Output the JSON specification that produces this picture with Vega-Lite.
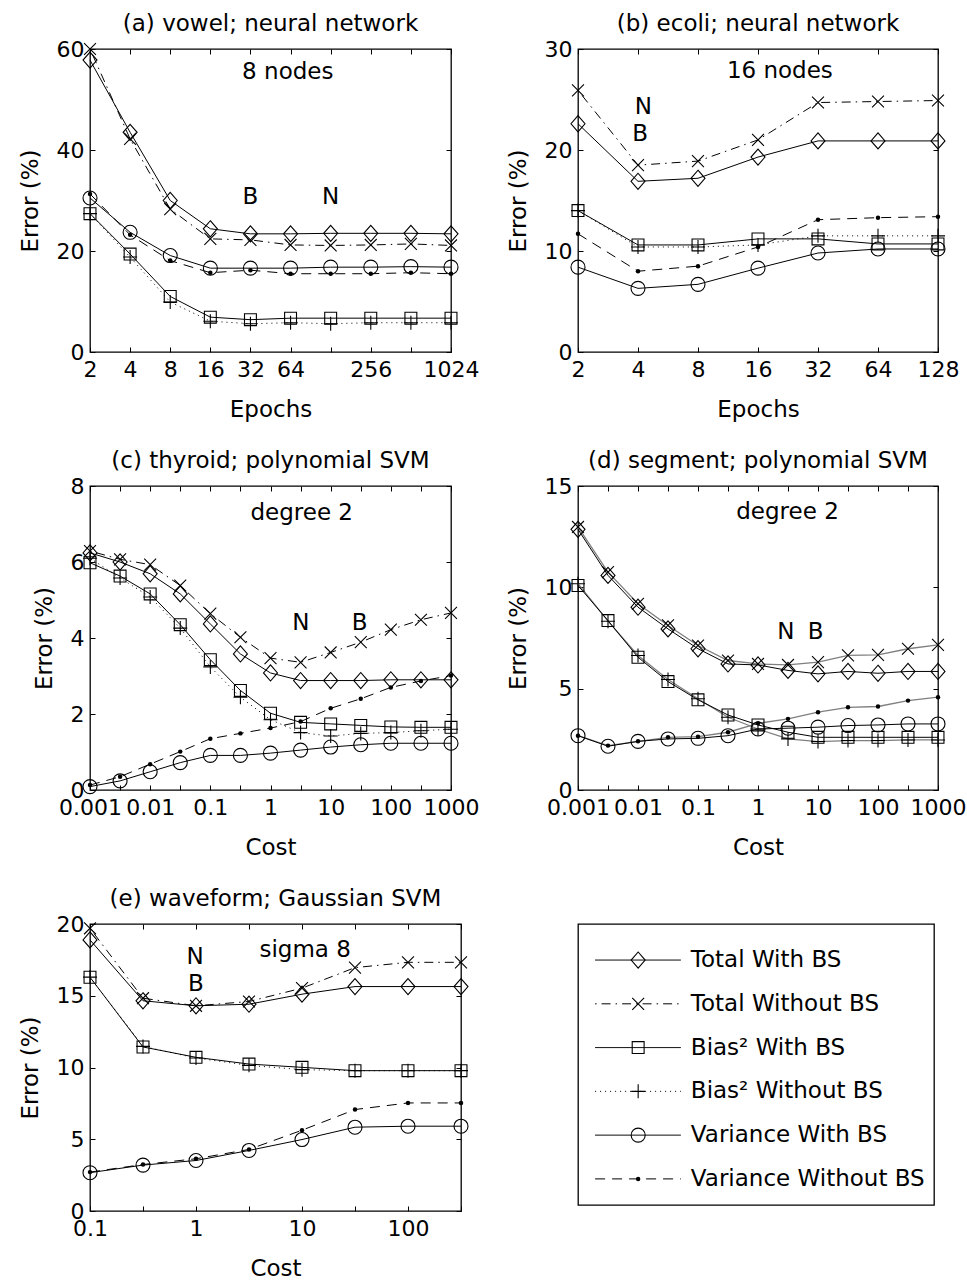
{
"$schema": "https://vega.github.io/schema/vega-lite/v6.json",
"background": "white",
"padding": {"left": 18, "top": 12, "right": 10, "bottom": 10},
"columns": 2,
"spacing": {"row": 134, "column": 117},
"bounds": "flush",
"align": "each",
"config": {
  "font": "DejaVu Sans",
  "view": {"stroke": "black", "strokeWidth": 1.3},
  "axis": {"grid": false, "domain": false, "tickColor": "black", "tickSize": -5, "tickWidth": 1, "labelFont": "DejaVu Sans", "labelFontSize": 22, "labelColor": "black", "titleFont": "DejaVu Sans", "titleFontSize": 23, "titleFontWeight": "normal", "titleColor": "black", "labelFlush": false, "labelOverlap": false, "labelBound": false},
  "axisX": {"labelPadding": 12, "titlePadding": 18},
  "axisY": {"labelPadding": 11, "titlePadding": 14},
  "title": {"font": "DejaVu Sans", "fontSize": 23, "fontWeight": "normal", "color": "black", "frame": "group", "offset": 2},
  "text": {"font": "DejaVu Sans", "fontSize": 23, "color": "black"}
},
"datasets": {
"a": [
{"s":"Total With BS","x":2,"y":57.8},{"s":"Total With BS","x":4,"y":43.5},{"s":"Total With BS","x":8,"y":30.0},{"s":"Total With BS","x":16,"y":24.4},{"s":"Total With BS","x":32,"y":23.4},{"s":"Total With BS","x":64,"y":23.4},{"s":"Total With BS","x":128,"y":23.5},{"s":"Total With BS","x":256,"y":23.5},{"s":"Total With BS","x":512,"y":23.5},{"s":"Total With BS","x":1024,"y":23.4},
{"s":"Total Without BS","x":2,"y":60},{"s":"Total Without BS","x":4,"y":42.2},{"s":"Total Without BS","x":8,"y":28.3},{"s":"Total Without BS","x":16,"y":22.4},{"s":"Total Without BS","x":32,"y":22.2},{"s":"Total Without BS","x":64,"y":21.2},{"s":"Total Without BS","x":128,"y":21.1},{"s":"Total Without BS","x":256,"y":21.2},{"s":"Total Without BS","x":512,"y":21.4},{"s":"Total Without BS","x":1024,"y":21.1},
{"s":"Bias² With BS","x":2,"y":27.4},{"s":"Bias² With BS","x":4,"y":19.4},{"s":"Bias² With BS","x":8,"y":11.0},{"s":"Bias² With BS","x":16,"y":6.9},{"s":"Bias² With BS","x":32,"y":6.4},{"s":"Bias² With BS","x":64,"y":6.7},{"s":"Bias² With BS","x":128,"y":6.7},{"s":"Bias² With BS","x":256,"y":6.7},{"s":"Bias² With BS","x":512,"y":6.7},{"s":"Bias² With BS","x":1024,"y":6.7},
{"s":"Bias² Without BS","x":2,"y":27.4},{"s":"Bias² Without BS","x":4,"y":18.8},{"s":"Bias² Without BS","x":8,"y":9.9},{"s":"Bias² Without BS","x":16,"y":6.1},{"s":"Bias² Without BS","x":32,"y":5.6},{"s":"Bias² Without BS","x":64,"y":5.8},{"s":"Bias² Without BS","x":128,"y":5.6},{"s":"Bias² Without BS","x":256,"y":5.8},{"s":"Bias² Without BS","x":512,"y":5.8},{"s":"Bias² Without BS","x":1024,"y":5.8},
{"s":"Variance With BS","x":2,"y":30.5},{"s":"Variance With BS","x":4,"y":23.7},{"s":"Variance With BS","x":8,"y":19.1},{"s":"Variance With BS","x":16,"y":16.6},{"s":"Variance With BS","x":32,"y":16.6},{"s":"Variance With BS","x":64,"y":16.6},{"s":"Variance With BS","x":128,"y":16.8},{"s":"Variance With BS","x":256,"y":16.8},{"s":"Variance With BS","x":512,"y":16.9},{"s":"Variance With BS","x":1024,"y":16.8},
{"s":"Variance Without BS","x":2,"y":31.3},{"s":"Variance Without BS","x":4,"y":23.2},{"s":"Variance Without BS","x":8,"y":18.1},{"s":"Variance Without BS","x":16,"y":15.7},{"s":"Variance Without BS","x":32,"y":16.2},{"s":"Variance Without BS","x":64,"y":15.5},{"s":"Variance Without BS","x":128,"y":15.5},{"s":"Variance Without BS","x":256,"y":15.5},{"s":"Variance Without BS","x":512,"y":15.7},{"s":"Variance Without BS","x":1024,"y":15.5}
],
"b": [
{"s":"Total With BS","x":2,"y":22.6},{"s":"Total With BS","x":4,"y":16.9},{"s":"Total With BS","x":8,"y":17.2},{"s":"Total With BS","x":16,"y":19.3},{"s":"Total With BS","x":32,"y":20.9},{"s":"Total With BS","x":64,"y":20.9},{"s":"Total With BS","x":128,"y":20.9},
{"s":"Total Without BS","x":2,"y":25.9},{"s":"Total Without BS","x":4,"y":18.5},{"s":"Total Without BS","x":8,"y":18.9},{"s":"Total Without BS","x":16,"y":21.0},{"s":"Total Without BS","x":32,"y":24.7},{"s":"Total Without BS","x":64,"y":24.8},{"s":"Total Without BS","x":128,"y":24.9},
{"s":"Bias² With BS","x":2,"y":14.0},{"s":"Bias² With BS","x":4,"y":10.6},{"s":"Bias² With BS","x":8,"y":10.6},{"s":"Bias² With BS","x":16,"y":11.2},{"s":"Bias² With BS","x":32,"y":11.2},{"s":"Bias² With BS","x":64,"y":10.7},{"s":"Bias² With BS","x":128,"y":10.7},
{"s":"Bias² Without BS","x":2,"y":14.0},{"s":"Bias² Without BS","x":4,"y":10.4},{"s":"Bias² Without BS","x":8,"y":10.4},{"s":"Bias² Without BS","x":16,"y":10.6},{"s":"Bias² Without BS","x":32,"y":11.5},{"s":"Bias² Without BS","x":64,"y":11.5},{"s":"Bias² Without BS","x":128,"y":11.5},
{"s":"Variance With BS","x":2,"y":8.4},{"s":"Variance With BS","x":4,"y":6.3},{"s":"Variance With BS","x":8,"y":6.7},{"s":"Variance With BS","x":16,"y":8.3},{"s":"Variance With BS","x":32,"y":9.8},{"s":"Variance With BS","x":64,"y":10.2},{"s":"Variance With BS","x":128,"y":10.2},
{"s":"Variance Without BS","x":2,"y":11.7},{"s":"Variance Without BS","x":4,"y":8.0},{"s":"Variance Without BS","x":8,"y":8.5},{"s":"Variance Without BS","x":16,"y":10.4},{"s":"Variance Without BS","x":32,"y":13.1},{"s":"Variance Without BS","x":64,"y":13.3},{"s":"Variance Without BS","x":128,"y":13.4}
],
"c": [
{"s":"Total With BS","x":0.001,"y":6.24},{"s":"Total With BS","x":0.0031623,"y":6.0},{"s":"Total With BS","x":0.01,"y":5.69},{"s":"Total With BS","x":0.031623,"y":5.16},{"s":"Total With BS","x":0.1,"y":4.37},{"s":"Total With BS","x":0.31623,"y":3.58},{"s":"Total With BS","x":1,"y":3.08},{"s":"Total With BS","x":3.1623,"y":2.88},{"s":"Total With BS","x":10,"y":2.88},{"s":"Total With BS","x":31.623,"y":2.88},{"s":"Total With BS","x":100,"y":2.9},{"s":"Total With BS","x":316.23,"y":2.9},{"s":"Total With BS","x":1000,"y":2.9},
{"s":"Total Without BS","x":0.001,"y":6.29},{"s":"Total Without BS","x":0.0031623,"y":6.07},{"s":"Total Without BS","x":0.01,"y":5.93},{"s":"Total Without BS","x":0.031623,"y":5.38},{"s":"Total Without BS","x":0.1,"y":4.64},{"s":"Total Without BS","x":0.31623,"y":4.02},{"s":"Total Without BS","x":1,"y":3.47},{"s":"Total Without BS","x":3.1623,"y":3.36},{"s":"Total Without BS","x":10,"y":3.62},{"s":"Total Without BS","x":31.623,"y":3.89},{"s":"Total Without BS","x":100,"y":4.22},{"s":"Total Without BS","x":316.23,"y":4.48},{"s":"Total Without BS","x":1000,"y":4.66},
{"s":"Bias² With BS","x":0.001,"y":5.98},{"s":"Bias² With BS","x":0.0031623,"y":5.63},{"s":"Bias² With BS","x":0.01,"y":5.16},{"s":"Bias² With BS","x":0.031623,"y":4.35},{"s":"Bias² With BS","x":0.1,"y":3.43},{"s":"Bias² With BS","x":0.31623,"y":2.62},{"s":"Bias² With BS","x":1,"y":2.02},{"s":"Bias² With BS","x":3.1623,"y":1.78},{"s":"Bias² With BS","x":10,"y":1.74},{"s":"Bias² With BS","x":31.623,"y":1.70},{"s":"Bias² With BS","x":100,"y":1.66},{"s":"Bias² With BS","x":316.23,"y":1.65},{"s":"Bias² With BS","x":1000,"y":1.65},
{"s":"Bias² Without BS","x":0.001,"y":6.1},{"s":"Bias² Without BS","x":0.0031623,"y":5.58},{"s":"Bias² Without BS","x":0.01,"y":5.08},{"s":"Bias² Without BS","x":0.031623,"y":4.26},{"s":"Bias² Without BS","x":0.1,"y":3.24},{"s":"Bias² Without BS","x":0.31623,"y":2.44},{"s":"Bias² Without BS","x":1,"y":1.85},{"s":"Bias² Without BS","x":3.1623,"y":1.51},{"s":"Bias² Without BS","x":10,"y":1.42},{"s":"Bias² Without BS","x":31.623,"y":1.49},{"s":"Bias² Without BS","x":100,"y":1.51},{"s":"Bias² Without BS","x":316.23,"y":1.56},{"s":"Bias² Without BS","x":1000,"y":1.6},
{"s":"Variance With BS","x":0.001,"y":0.09},{"s":"Variance With BS","x":0.0031623,"y":0.24},{"s":"Variance With BS","x":0.01,"y":0.48},{"s":"Variance With BS","x":0.031623,"y":0.72},{"s":"Variance With BS","x":0.1,"y":0.91},{"s":"Variance With BS","x":0.31623,"y":0.91},{"s":"Variance With BS","x":1,"y":0.97},{"s":"Variance With BS","x":3.1623,"y":1.05},{"s":"Variance With BS","x":10,"y":1.13},{"s":"Variance With BS","x":31.623,"y":1.19},{"s":"Variance With BS","x":100,"y":1.23},{"s":"Variance With BS","x":316.23,"y":1.23},{"s":"Variance With BS","x":1000,"y":1.23},
{"s":"Variance Without BS","x":0.001,"y":0.13},{"s":"Variance Without BS","x":0.0031623,"y":0.35},{"s":"Variance Without BS","x":0.01,"y":0.68},{"s":"Variance Without BS","x":0.031623,"y":1.01},{"s":"Variance Without BS","x":0.1,"y":1.35},{"s":"Variance Without BS","x":0.31623,"y":1.49},{"s":"Variance Without BS","x":1,"y":1.63},{"s":"Variance Without BS","x":3.1623,"y":1.80},{"s":"Variance Without BS","x":10,"y":2.15},{"s":"Variance Without BS","x":31.623,"y":2.40},{"s":"Variance Without BS","x":100,"y":2.70},{"s":"Variance Without BS","x":316.23,"y":2.87},{"s":"Variance Without BS","x":1000,"y":3.01}
],
"d": [
{"s":"Total With BS","x":0.001,"y":12.86},{"s":"Total With BS","x":0.0031623,"y":10.59},{"s":"Total With BS","x":0.01,"y":9.02},{"s":"Total With BS","x":0.031623,"y":7.95},{"s":"Total With BS","x":0.1,"y":6.97},{"s":"Total With BS","x":0.31623,"y":6.22},{"s":"Total With BS","x":1,"y":6.17},{"s":"Total With BS","x":3.1623,"y":5.9},{"s":"Total With BS","x":10,"y":5.73},{"s":"Total With BS","x":31.623,"y":5.85},{"s":"Total With BS","x":100,"y":5.76},{"s":"Total With BS","x":316.23,"y":5.85},{"s":"Total With BS","x":1000,"y":5.85},
{"s":"Total Without BS","x":0.001,"y":12.98},{"s":"Total Without BS","x":0.0031623,"y":10.75},{"s":"Total Without BS","x":0.01,"y":9.19},{"s":"Total Without BS","x":0.031623,"y":8.12},{"s":"Total Without BS","x":0.1,"y":7.13},{"s":"Total Without BS","x":0.31623,"y":6.39},{"s":"Total Without BS","x":1,"y":6.22},{"s":"Total Without BS","x":3.1623,"y":6.17},{"s":"Total Without BS","x":10,"y":6.31},{"s":"Total Without BS","x":31.623,"y":6.64},{"s":"Total Without BS","x":100,"y":6.67},{"s":"Total Without BS","x":316.23,"y":6.97},{"s":"Total Without BS","x":1000,"y":7.16},
{"s":"Bias² With BS","x":0.001,"y":10.09},{"s":"Bias² With BS","x":0.0031623,"y":8.36},{"s":"Bias² With BS","x":0.01,"y":6.55},{"s":"Bias² With BS","x":0.031623,"y":5.35},{"s":"Bias² With BS","x":0.1,"y":4.45},{"s":"Bias² With BS","x":0.31623,"y":3.7},{"s":"Bias² With BS","x":1,"y":3.21},{"s":"Bias² With BS","x":3.1623,"y":2.85},{"s":"Bias² With BS","x":10,"y":2.6},{"s":"Bias² With BS","x":31.623,"y":2.6},{"s":"Bias² With BS","x":100,"y":2.6},{"s":"Bias² With BS","x":316.23,"y":2.6},{"s":"Bias² With BS","x":1000,"y":2.6},
{"s":"Bias² Without BS","x":0.001,"y":10.18},{"s":"Bias² Without BS","x":0.0031623,"y":8.33},{"s":"Bias² Without BS","x":0.01,"y":6.64},{"s":"Bias² Without BS","x":0.031623,"y":5.45},{"s":"Bias² Without BS","x":0.1,"y":4.5},{"s":"Bias² Without BS","x":0.31623,"y":3.59},{"s":"Bias² Without BS","x":1,"y":3.01},{"s":"Bias² Without BS","x":3.1623,"y":2.52},{"s":"Bias² Without BS","x":10,"y":2.39},{"s":"Bias² Without BS","x":31.623,"y":2.44},{"s":"Bias² Without BS","x":100,"y":2.44},{"s":"Bias² Without BS","x":316.23,"y":2.47},{"s":"Bias² Without BS","x":1000,"y":2.47},
{"s":"Variance With BS","x":0.001,"y":2.68},{"s":"Variance With BS","x":0.0031623,"y":2.16},{"s":"Variance With BS","x":0.01,"y":2.4},{"s":"Variance With BS","x":0.031623,"y":2.52},{"s":"Variance With BS","x":0.1,"y":2.55},{"s":"Variance With BS","x":0.31623,"y":2.68},{"s":"Variance With BS","x":1,"y":3.01},{"s":"Variance With BS","x":3.1623,"y":3.05},{"s":"Variance With BS","x":10,"y":3.1},{"s":"Variance With BS","x":31.623,"y":3.18},{"s":"Variance With BS","x":100,"y":3.21},{"s":"Variance With BS","x":316.23,"y":3.26},{"s":"Variance With BS","x":1000,"y":3.26},
{"s":"Variance Without BS","x":0.001,"y":2.68},{"s":"Variance Without BS","x":0.0031623,"y":2.19},{"s":"Variance Without BS","x":0.01,"y":2.4},{"s":"Variance Without BS","x":0.031623,"y":2.6},{"s":"Variance Without BS","x":0.1,"y":2.63},{"s":"Variance Without BS","x":0.31623,"y":2.85},{"s":"Variance Without BS","x":1,"y":3.29},{"s":"Variance Without BS","x":3.1623,"y":3.51},{"s":"Variance Without BS","x":10,"y":3.84},{"s":"Variance Without BS","x":31.623,"y":4.08},{"s":"Variance Without BS","x":100,"y":4.12},{"s":"Variance Without BS","x":316.23,"y":4.41},{"s":"Variance Without BS","x":1000,"y":4.58}
],
"e": [
{"s":"Total With BS","x":0.1,"y":18.89},{"s":"Total With BS","x":0.31623,"y":14.65},{"s":"Total With BS","x":1,"y":14.3},{"s":"Total With BS","x":3.1623,"y":14.41},{"s":"Total With BS","x":10,"y":15.11},{"s":"Total With BS","x":31.623,"y":15.64},{"s":"Total With BS","x":100,"y":15.64},{"s":"Total With BS","x":316.23,"y":15.64},
{"s":"Total Without BS","x":0.1,"y":19.7},{"s":"Total Without BS","x":0.31623,"y":14.83},{"s":"Total Without BS","x":1,"y":14.3},{"s":"Total Without BS","x":3.1623,"y":14.6},{"s":"Total Without BS","x":10,"y":15.53},{"s":"Total Without BS","x":31.623,"y":16.96},{"s":"Total Without BS","x":100,"y":17.33},{"s":"Total Without BS","x":316.23,"y":17.33},
{"s":"Bias² With BS","x":0.1,"y":16.29},{"s":"Bias² With BS","x":0.31623,"y":11.43},{"s":"Bias² With BS","x":1,"y":10.71},{"s":"Bias² With BS","x":3.1623,"y":10.24},{"s":"Bias² With BS","x":10,"y":10.01},{"s":"Bias² With BS","x":31.623,"y":9.78},{"s":"Bias² With BS","x":100,"y":9.78},{"s":"Bias² With BS","x":316.23,"y":9.78},
{"s":"Bias² Without BS","x":0.1,"y":16.3},{"s":"Bias² Without BS","x":0.31623,"y":11.47},{"s":"Bias² Without BS","x":1,"y":10.66},{"s":"Bias² Without BS","x":3.1623,"y":10.15},{"s":"Bias² Without BS","x":10,"y":9.85},{"s":"Bias² Without BS","x":31.623,"y":9.78},{"s":"Bias² Without BS","x":100,"y":9.78},{"s":"Bias² Without BS","x":316.23,"y":9.78},
{"s":"Variance With BS","x":0.1,"y":2.67},{"s":"Variance With BS","x":0.31623,"y":3.2},{"s":"Variance With BS","x":1,"y":3.52},{"s":"Variance With BS","x":3.1623,"y":4.22},{"s":"Variance With BS","x":10,"y":4.98},{"s":"Variance With BS","x":31.623,"y":5.84},{"s":"Variance With BS","x":100,"y":5.91},{"s":"Variance With BS","x":316.23,"y":5.91},
{"s":"Variance Without BS","x":0.1,"y":2.71},{"s":"Variance Without BS","x":0.31623,"y":3.24},{"s":"Variance Without BS","x":1,"y":3.64},{"s":"Variance Without BS","x":3.1623,"y":4.29},{"s":"Variance Without BS","x":10,"y":5.63},{"s":"Variance Without BS","x":31.623,"y":7.07},{"s":"Variance Without BS","x":100,"y":7.53},{"s":"Variance Without BS","x":316.23,"y":7.53}
],
"legend": [
{"s":"Total With BS"},{"s":"Total Without BS"},{"s":"Bias² With BS"},{"s":"Bias² Without BS"},{"s":"Variance With BS"},{"s":"Variance Without BS"}
]
},
"concat": [
{
 "width": 361, "height": 303,
 "title": "(a) vowel; neural network",
 "data": {"name": "a"},
 "layer": [
  {"transform": [{"filter": {"field": "s", "oneOf": ["Total With BS", "Bias² With BS", "Variance With BS"]}}],
   "mark": {"type": "line", "color": "black", "strokeWidth": 1},
   "encoding": {
    "x": {"field": "x", "type": "quantitative", "scale": {"type": "log", "domain": [2, 1024], "nice": false}, "axis": {"title": "Epochs", "values": [2, 4, 8, 16, 32, 64, 128, 256, 512, 1024], "format": "d", "labelExpr": "datum.value == 128 || datum.value == 512 ? '' : datum.label"}},
    "y": {"field": "y", "type": "quantitative", "scale": {"domain": [0, 60], "nice": false}, "axis": {"title": "Error (%)", "values": [0, 20, 40, 60]}},
    "detail": {"field": "s"}}},
  {"transform": [{"filter": "datum.s == 'Total Without BS'"}], "mark": {"type": "line", "color": "black", "strokeWidth": 1, "strokeDash": [1.5, 5, 9, 5]},
   "encoding": {"x": {"field": "x", "type": "quantitative", "axis": null}, "y": {"field": "y", "type": "quantitative", "axis": null}}},
  {"transform": [{"filter": "datum.s == 'Bias² Without BS'"}], "mark": {"type": "line", "color": "black", "strokeWidth": 1, "strokeDash": [1, 4]},
   "encoding": {"x": {"field": "x", "type": "quantitative", "axis": null}, "y": {"field": "y", "type": "quantitative", "axis": null}}},
  {"transform": [{"filter": "datum.s == 'Variance Without BS'"}], "mark": {"type": "line", "color": "black", "strokeWidth": 1, "strokeDash": [10, 7]},
   "encoding": {"x": {"field": "x", "type": "quantitative", "axis": null}, "y": {"field": "y", "type": "quantitative", "axis": null}}},
  {"transform": [{"filter": "datum.s != 'Variance Without BS'"}], "mark": {"type": "point", "filled": false, "color": "black", "strokeWidth": 1.1, "size": 196, "opacity": 1},
   "encoding": {"x": {"field": "x", "type": "quantitative", "axis": null}, "y": {"field": "y", "type": "quantitative", "axis": null},
    "shape": {"field": "s", "type": "nominal", "scale": {"domain": ["Total With BS", "Total Without BS", "Bias² With BS", "Bias² Without BS", "Variance With BS", "Variance Without BS"], "range": ["M0,-1.15L1,0L0,1.15L-1,0Z", "M-0.85,-0.85L0.85,0.85M-0.85,0.85L0.85,-0.85", "M-0.85,-0.85L0.85,-0.85L0.85,0.85L-0.85,0.85Z", "M-1,0L1,0M0,-1L0,1", "circle", "circle"]}, "legend": null}}},
  {"transform": [{"filter": "datum.s == 'Variance Without BS'"}], "mark": {"type": "point", "filled": true, "shape": "circle", "color": "black", "size": 20, "opacity": 1},
   "encoding": {"x": {"field": "x", "type": "quantitative", "axis": {"orient": "top", "labels": false, "title": null, "values": [2, 4, 8, 16, 32, 64, 128, 256, 512, 1024]}},
    "y": {"field": "y", "type": "quantitative", "axis": {"orient": "right", "labels": false, "title": null, "values": [0, 20, 40, 60]}}}},
  {"data": {"values": [{}]}, "mark": {"type": "text", "text": "8 nodes"}, "encoding": {"x": {"datum": 61, "type": "quantitative", "axis": null}, "y": {"datum": 55.4, "type": "quantitative", "axis": null}}},
  {"data": {"values": [{}]}, "mark": {"type": "text", "text": "B"}, "encoding": {"x": {"datum": 32, "type": "quantitative", "axis": null}, "y": {"datum": 30.7, "type": "quantitative", "axis": null}}},
  {"data": {"values": [{}]}, "mark": {"type": "text", "text": "N"}, "encoding": {"x": {"datum": 128, "type": "quantitative", "axis": null}, "y": {"datum": 30.7, "type": "quantitative", "axis": null}}}
 ],
 "resolve": {"axis": {"x": "independent", "y": "independent"}}
},
{
 "width": 360, "height": 303,
 "title": "(b) ecoli; neural network",
 "data": {"name": "b"},
 "layer": [
  {"transform": [{"filter": {"field": "s", "oneOf": ["Total With BS", "Bias² With BS", "Variance With BS"]}}],
   "mark": {"type": "line", "color": "black", "strokeWidth": 1},
   "encoding": {
    "x": {"field": "x", "type": "quantitative", "scale": {"type": "log", "domain": [2, 128], "nice": false}, "axis": {"title": "Epochs", "values": [2, 4, 8, 16, 32, 64, 128], "format": "d"}},
    "y": {"field": "y", "type": "quantitative", "scale": {"domain": [0, 30], "nice": false}, "axis": {"title": "Error (%)", "values": [0, 10, 20, 30]}},
    "detail": {"field": "s"}}},
  {"transform": [{"filter": "datum.s == 'Total Without BS'"}], "mark": {"type": "line", "color": "black", "strokeWidth": 1, "strokeDash": [1.5, 5, 9, 5]},
   "encoding": {"x": {"field": "x", "type": "quantitative", "axis": null}, "y": {"field": "y", "type": "quantitative", "axis": null}}},
  {"transform": [{"filter": "datum.s == 'Bias² Without BS'"}], "mark": {"type": "line", "color": "black", "strokeWidth": 1, "strokeDash": [1, 4]},
   "encoding": {"x": {"field": "x", "type": "quantitative", "axis": null}, "y": {"field": "y", "type": "quantitative", "axis": null}}},
  {"transform": [{"filter": "datum.s == 'Variance Without BS'"}], "mark": {"type": "line", "color": "black", "strokeWidth": 1, "strokeDash": [10, 7]},
   "encoding": {"x": {"field": "x", "type": "quantitative", "axis": null}, "y": {"field": "y", "type": "quantitative", "axis": null}}},
  {"transform": [{"filter": "datum.s != 'Variance Without BS'"}], "mark": {"type": "point", "filled": false, "color": "black", "strokeWidth": 1.1, "size": 196, "opacity": 1},
   "encoding": {"x": {"field": "x", "type": "quantitative", "axis": null}, "y": {"field": "y", "type": "quantitative", "axis": null},
    "shape": {"field": "s", "type": "nominal", "scale": {"domain": ["Total With BS", "Total Without BS", "Bias² With BS", "Bias² Without BS", "Variance With BS", "Variance Without BS"], "range": ["M0,-1.15L1,0L0,1.15L-1,0Z", "M-0.85,-0.85L0.85,0.85M-0.85,0.85L0.85,-0.85", "M-0.85,-0.85L0.85,-0.85L0.85,0.85L-0.85,0.85Z", "M-1,0L1,0M0,-1L0,1", "circle", "circle"]}, "legend": null}}},
  {"transform": [{"filter": "datum.s == 'Variance Without BS'"}], "mark": {"type": "point", "filled": true, "shape": "circle", "color": "black", "size": 20, "opacity": 1},
   "encoding": {"x": {"field": "x", "type": "quantitative", "axis": {"orient": "top", "labels": false, "title": null, "values": [2, 4, 8, 16, 32, 64, 128]}},
    "y": {"field": "y", "type": "quantitative", "axis": {"orient": "right", "labels": false, "title": null, "values": [0, 10, 20, 30]}}}},
  {"data": {"values": [{}]}, "mark": {"type": "text", "text": "16 nodes"}, "encoding": {"x": {"datum": 20.6, "type": "quantitative", "axis": null}, "y": {"datum": 27.8, "type": "quantitative", "axis": null}}},
  {"data": {"values": [{}]}, "mark": {"type": "text", "text": "N"}, "encoding": {"x": {"datum": 4.25, "type": "quantitative", "axis": null}, "y": {"datum": 24.3, "type": "quantitative", "axis": null}}},
  {"data": {"values": [{}]}, "mark": {"type": "text", "text": "B"}, "encoding": {"x": {"datum": 4.1, "type": "quantitative", "axis": null}, "y": {"datum": 21.6, "type": "quantitative", "axis": null}}}
 ],
 "resolve": {"axis": {"x": "independent", "y": "independent"}}
},
{
 "width": 361, "height": 304,
 "title": "(c) thyroid; polynomial SVM",
 "data": {"name": "c"},
 "layer": [
  {"transform": [{"filter": {"field": "s", "oneOf": ["Total With BS", "Bias² With BS", "Variance With BS"]}}],
   "mark": {"type": "line", "color": "black", "strokeWidth": 1},
   "encoding": {
    "x": {"field": "x", "type": "quantitative", "scale": {"type": "log", "domain": [0.001, 1000], "nice": false}, "axis": {"title": "Cost", "values": [0.001, 0.0031623, 0.01, 0.031623, 0.1, 0.31623, 1, 3.1623, 10, 31.623, 100, 316.23, 1000], "format": "~g", "labelExpr": "abs(log(datum.value)/LN10 - round(log(datum.value)/LN10)) < 0.01 ? datum.label : ''"}},
    "y": {"field": "y", "type": "quantitative", "scale": {"domain": [0, 8], "nice": false}, "axis": {"title": "Error (%)", "values": [0, 2, 4, 6, 8]}},
    "detail": {"field": "s"}}},
  {"transform": [{"filter": "datum.s == 'Total Without BS'"}], "mark": {"type": "line", "color": "black", "strokeWidth": 1, "strokeDash": [1.5, 5, 9, 5]},
   "encoding": {"x": {"field": "x", "type": "quantitative", "axis": null}, "y": {"field": "y", "type": "quantitative", "axis": null}}},
  {"transform": [{"filter": "datum.s == 'Bias² Without BS'"}], "mark": {"type": "line", "color": "black", "strokeWidth": 1, "strokeDash": [1, 4]},
   "encoding": {"x": {"field": "x", "type": "quantitative", "axis": null}, "y": {"field": "y", "type": "quantitative", "axis": null}}},
  {"transform": [{"filter": "datum.s == 'Variance Without BS'"}], "mark": {"type": "line", "color": "black", "strokeWidth": 1, "strokeDash": [10, 7]},
   "encoding": {"x": {"field": "x", "type": "quantitative", "axis": null}, "y": {"field": "y", "type": "quantitative", "axis": null}}},
  {"transform": [{"filter": "datum.s != 'Variance Without BS'"}], "mark": {"type": "point", "filled": false, "color": "black", "strokeWidth": 1.1, "size": 196, "opacity": 1},
   "encoding": {"x": {"field": "x", "type": "quantitative", "axis": null}, "y": {"field": "y", "type": "quantitative", "axis": null},
    "shape": {"field": "s", "type": "nominal", "scale": {"domain": ["Total With BS", "Total Without BS", "Bias² With BS", "Bias² Without BS", "Variance With BS", "Variance Without BS"], "range": ["M0,-1.15L1,0L0,1.15L-1,0Z", "M-0.85,-0.85L0.85,0.85M-0.85,0.85L0.85,-0.85", "M-0.85,-0.85L0.85,-0.85L0.85,0.85L-0.85,0.85Z", "M-1,0L1,0M0,-1L0,1", "circle", "circle"]}, "legend": null}}},
  {"transform": [{"filter": "datum.s == 'Variance Without BS'"}], "mark": {"type": "point", "filled": true, "shape": "circle", "color": "black", "size": 20, "opacity": 1},
   "encoding": {"x": {"field": "x", "type": "quantitative", "axis": {"orient": "top", "labels": false, "title": null, "values": [0.001, 0.0031623, 0.01, 0.031623, 0.1, 0.31623, 1, 3.1623, 10, 31.623, 100, 316.23, 1000]}},
    "y": {"field": "y", "type": "quantitative", "axis": {"orient": "right", "labels": false, "title": null, "values": [0, 2, 4, 6, 8]}}}},
  {"data": {"values": [{}]}, "mark": {"type": "text", "text": "degree 2"}, "encoding": {"x": {"datum": 3.3, "type": "quantitative", "axis": null}, "y": {"datum": 7.3, "type": "quantitative", "axis": null}}},
  {"data": {"values": [{}]}, "mark": {"type": "text", "text": "N"}, "encoding": {"x": {"datum": 3.2, "type": "quantitative", "axis": null}, "y": {"datum": 4.4, "type": "quantitative", "axis": null}}},
  {"data": {"values": [{}]}, "mark": {"type": "text", "text": "B"}, "encoding": {"x": {"datum": 30.4, "type": "quantitative", "axis": null}, "y": {"datum": 4.4, "type": "quantitative", "axis": null}}}
 ],
 "resolve": {"axis": {"x": "independent", "y": "independent"}}
},
{
 "width": 360, "height": 304,
 "title": "(d) segment; polynomial SVM",
 "data": {"name": "d"},
 "layer": [
  {"transform": [{"filter": {"field": "s", "oneOf": ["Total Without BS", "Bias² Without BS", "Variance Without BS"]}}],
   "mark": {"type": "line", "color": "#7f7f7f", "strokeWidth": 1.3},
   "encoding": {
    "x": {"field": "x", "type": "quantitative", "scale": {"type": "log", "domain": [0.001, 1000], "nice": false}, "axis": {"title": "Cost", "values": [0.001, 0.0031623, 0.01, 0.031623, 0.1, 0.31623, 1, 3.1623, 10, 31.623, 100, 316.23, 1000], "format": "~g", "labelExpr": "abs(log(datum.value)/LN10 - round(log(datum.value)/LN10)) < 0.01 ? datum.label : ''"}},
    "y": {"field": "y", "type": "quantitative", "scale": {"domain": [0, 15], "nice": false}, "axis": {"title": "Error (%)", "values": [0, 5, 10, 15]}},
    "detail": {"field": "s"}}},
  {"transform": [{"filter": {"field": "s", "oneOf": ["Total With BS", "Bias² With BS", "Variance With BS"]}}],
   "mark": {"type": "line", "color": "black", "strokeWidth": 1},
   "encoding": {"x": {"field": "x", "type": "quantitative", "axis": null}, "y": {"field": "y", "type": "quantitative", "axis": null}, "detail": {"field": "s"}}},
  {"transform": [{"filter": "datum.s != 'Variance Without BS'"}], "mark": {"type": "point", "filled": false, "color": "black", "strokeWidth": 1.1, "size": 196, "opacity": 1},
   "encoding": {"x": {"field": "x", "type": "quantitative", "axis": null}, "y": {"field": "y", "type": "quantitative", "axis": null},
    "shape": {"field": "s", "type": "nominal", "scale": {"domain": ["Total With BS", "Total Without BS", "Bias² With BS", "Bias² Without BS", "Variance With BS", "Variance Without BS"], "range": ["M0,-1.15L1,0L0,1.15L-1,0Z", "M-0.85,-0.85L0.85,0.85M-0.85,0.85L0.85,-0.85", "M-0.85,-0.85L0.85,-0.85L0.85,0.85L-0.85,0.85Z", "M-1,0L1,0M0,-1L0,1", "circle", "circle"]}, "legend": null}}},
  {"transform": [{"filter": "datum.s == 'Variance Without BS'"}], "mark": {"type": "point", "filled": true, "shape": "circle", "color": "black", "size": 20, "opacity": 1},
   "encoding": {"x": {"field": "x", "type": "quantitative", "axis": {"orient": "top", "labels": false, "title": null, "values": [0.001, 0.0031623, 0.01, 0.031623, 0.1, 0.31623, 1, 3.1623, 10, 31.623, 100, 316.23, 1000]}},
    "y": {"field": "y", "type": "quantitative", "axis": {"orient": "right", "labels": false, "title": null, "values": [0, 5, 10, 15]}}}},
  {"data": {"values": [{}]}, "mark": {"type": "text", "text": "degree 2"}, "encoding": {"x": {"datum": 3.1, "type": "quantitative", "axis": null}, "y": {"datum": 13.7, "type": "quantitative", "axis": null}}},
  {"data": {"values": [{}]}, "mark": {"type": "text", "text": "N"}, "encoding": {"x": {"datum": 2.9, "type": "quantitative", "axis": null}, "y": {"datum": 7.8, "type": "quantitative", "axis": null}}},
  {"data": {"values": [{}]}, "mark": {"type": "text", "text": "B"}, "encoding": {"x": {"datum": 9.1, "type": "quantitative", "axis": null}, "y": {"datum": 7.8, "type": "quantitative", "axis": null}}}
 ],
 "resolve": {"axis": {"x": "independent", "y": "independent"}}
},
{
 "width": 371, "height": 287,
 "title": "(e) waveform; Gaussian SVM",
 "data": {"name": "e"},
 "layer": [
  {"transform": [{"filter": {"field": "s", "oneOf": ["Total With BS", "Bias² With BS", "Variance With BS"]}}],
   "mark": {"type": "line", "color": "black", "strokeWidth": 1},
   "encoding": {
    "x": {"field": "x", "type": "quantitative", "scale": {"type": "log", "domain": [0.1, 316.23], "nice": false}, "axis": {"title": "Cost", "values": [0.1, 0.31623, 1, 3.1623, 10, 31.623, 100, 316.23], "format": "~g", "labelExpr": "abs(log(datum.value)/LN10 - round(log(datum.value)/LN10)) < 0.01 ? datum.label : ''"}},
    "y": {"field": "y", "type": "quantitative", "scale": {"domain": [0, 20], "nice": false}, "axis": {"title": "Error (%)", "values": [0, 5, 10, 15, 20]}},
    "detail": {"field": "s"}}},
  {"transform": [{"filter": "datum.s == 'Total Without BS'"}], "mark": {"type": "line", "color": "black", "strokeWidth": 1, "strokeDash": [1.5, 5, 9, 5]},
   "encoding": {"x": {"field": "x", "type": "quantitative", "axis": null}, "y": {"field": "y", "type": "quantitative", "axis": null}}},
  {"transform": [{"filter": "datum.s == 'Bias² Without BS'"}], "mark": {"type": "line", "color": "black", "strokeWidth": 1, "strokeDash": [1, 4]},
   "encoding": {"x": {"field": "x", "type": "quantitative", "axis": null}, "y": {"field": "y", "type": "quantitative", "axis": null}}},
  {"transform": [{"filter": "datum.s == 'Variance Without BS'"}], "mark": {"type": "line", "color": "black", "strokeWidth": 1, "strokeDash": [10, 7]},
   "encoding": {"x": {"field": "x", "type": "quantitative", "axis": null}, "y": {"field": "y", "type": "quantitative", "axis": null}}},
  {"transform": [{"filter": "datum.s != 'Variance Without BS'"}], "mark": {"type": "point", "filled": false, "color": "black", "strokeWidth": 1.1, "size": 196, "opacity": 1},
   "encoding": {"x": {"field": "x", "type": "quantitative", "axis": null}, "y": {"field": "y", "type": "quantitative", "axis": null},
    "shape": {"field": "s", "type": "nominal", "scale": {"domain": ["Total With BS", "Total Without BS", "Bias² With BS", "Bias² Without BS", "Variance With BS", "Variance Without BS"], "range": ["M0,-1.15L1,0L0,1.15L-1,0Z", "M-0.85,-0.85L0.85,0.85M-0.85,0.85L0.85,-0.85", "M-0.85,-0.85L0.85,-0.85L0.85,0.85L-0.85,0.85Z", "M-1,0L1,0M0,-1L0,1", "circle", "circle"]}, "legend": null}}},
  {"transform": [{"filter": "datum.s == 'Variance Without BS'"}], "mark": {"type": "point", "filled": true, "shape": "circle", "color": "black", "size": 20, "opacity": 1},
   "encoding": {"x": {"field": "x", "type": "quantitative", "axis": {"orient": "top", "labels": false, "title": null, "values": [0.1, 0.31623, 1, 3.1623, 10, 31.623, 100, 316.23]}},
    "y": {"field": "y", "type": "quantitative", "axis": {"orient": "right", "labels": false, "title": null, "values": [0, 5, 10, 15, 20]}}}},
  {"data": {"values": [{}]}, "mark": {"type": "text", "text": "sigma 8"}, "encoding": {"x": {"datum": 10.7, "type": "quantitative", "axis": null}, "y": {"datum": 18.2, "type": "quantitative", "axis": null}}},
  {"data": {"values": [{}]}, "mark": {"type": "text", "text": "N"}, "encoding": {"x": {"datum": 0.98, "type": "quantitative", "axis": null}, "y": {"datum": 17.7, "type": "quantitative", "axis": null}}},
  {"data": {"values": [{}]}, "mark": {"type": "text", "text": "B"}, "encoding": {"x": {"datum": 1.0, "type": "quantitative", "axis": null}, "y": {"datum": 15.8, "type": "quantitative", "axis": null}}}
 ],
 "resolve": {"axis": {"x": "independent", "y": "independent"}}
},
{
 "width": 356, "height": 281,
 "data": {"name": "legend"},
 "layer": [
  {"mark": {"type": "rule", "color": "black", "strokeWidth": 1},
   "encoding": {
    "x": {"datum": 0.048, "type": "quantitative", "scale": {"domain": [0, 1], "nice": false}, "axis": null},
    "x2": {"datum": 0.289},
    "y": {"field": "s", "type": "nominal", "scale": {"type": "point", "padding": 0.71, "align": 0.58, "domain": ["Total With BS", "Total Without BS", "Bias² With BS", "Bias² Without BS", "Variance With BS", "Variance Without BS"]}, "axis": null},
    "strokeDash": {"field": "s", "type": "nominal", "scale": {"domain": ["Total With BS", "Total Without BS", "Bias² With BS", "Bias² Without BS", "Variance With BS", "Variance Without BS"], "range": [[1, 0], [1.5, 5, 9, 5], [1, 0], [1, 4], [1, 0], [10, 7]]}, "legend": null}}},
  {"transform": [{"filter": "datum.s != 'Variance Without BS'"}], "mark": {"type": "point", "filled": false, "color": "black", "strokeWidth": 1.1, "size": 196, "opacity": 1},
   "encoding": {"x": {"datum": 0.169, "type": "quantitative"}, "y": {"field": "s", "type": "nominal"},
    "shape": {"field": "s", "type": "nominal", "scale": {"domain": ["Total With BS", "Total Without BS", "Bias² With BS", "Bias² Without BS", "Variance With BS", "Variance Without BS"], "range": ["M0,-1.15L1,0L0,1.15L-1,0Z", "M-0.85,-0.85L0.85,0.85M-0.85,0.85L0.85,-0.85", "M-0.85,-0.85L0.85,-0.85L0.85,0.85L-0.85,0.85Z", "M-1,0L1,0M0,-1L0,1", "circle", "circle"]}, "legend": null}}},
  {"transform": [{"filter": "datum.s == 'Variance Without BS'"}], "mark": {"type": "point", "filled": true, "shape": "circle", "color": "black", "size": 20, "opacity": 1},
   "encoding": {"x": {"datum": 0.169, "type": "quantitative"}, "y": {"field": "s", "type": "nominal"}}},
  {"mark": {"type": "text", "align": "left", "baseline": "middle", "fontSize": 23},
   "encoding": {"x": {"datum": 0.317, "type": "quantitative"}, "y": {"field": "s", "type": "nominal"}, "text": {"field": "s"}}}
 ]
}
]
}
